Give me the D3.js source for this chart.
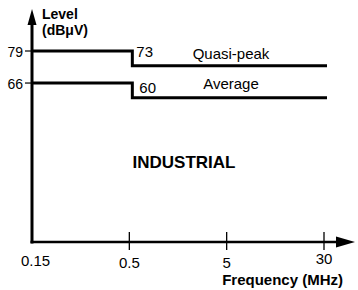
<!DOCTYPE html>
<html>
<head>
<meta charset="utf-8">
<title>Industrial limits</title>
<script src="https://d3js.org/d3.v7.min.js"></script>
<style>
  body { margin: 0; background: #fff; }
  text { font-family: "Liberation Sans", Arial, Helvetica, sans-serif; fill: #000; }
</style>
</head>
<body>
<script>

// ****** DATA ******

  var freqTicks = ["0.15", "0.5", "5", "30"];   // MHz, drawn equally spaced
  var levelTicks = [79, 66];                      // dBuV
  var stepFreq = ["0.15", "0.5", "0.5", "30"];
  var quasiPeakLevel = [79, 79, 73, 73];
  var averageLevel = [66, 66, 60, 60];
  var seriesNames = ["Quasi-peak", "Average"];

// ****** SCALES ******

  var width = 358, height = 290;

  var x = d3.scalePoint().domain(freqTicks).range([32, 324]);
  var y = d3.scaleLinear().domain([1.5, 79]).range([242, 51]);

  var svg = d3.select("body")
    .append("svg")
    .attr("width", width)
    .attr("height", height);

  // ****** AXES ******

  var x0 = x(freqTicks[0]), y0 = y(1.5);

  // y axis with arrow
  svg.append("line")
    .attr("x1", x0).attr("x2", x0)
    .attr("y1", 24).attr("y2", y0 + 1.5)
    .attr("stroke", "#000").attr("stroke-width", 3);
  svg.append("path")
    .attr("d", "M" + (x0 - 4.5) + ",25L" + x0 + ",9L" + (x0 + 4.5) + ",25Z")
    .attr("fill", "#000");

  // x axis with arrow
  svg.append("line")
    .attr("x1", x0 - 1.5).attr("x2", 338)
    .attr("y1", y0).attr("y2", y0)
    .attr("stroke", "#000").attr("stroke-width", 2.5);
  svg.append("path")
    .attr("d", "M336," + (y0 - 5.5) + "L355," + y0 + "L336," + (y0 + 5.5) + "Z")
    .attr("fill", "#000");

  // x ticks (not on the origin)
  svg.selectAll(".xtick")
    .data(freqTicks.slice(1))
    .enter().append("line")
    .attr("class", "xtick")
    .attr("x1", function (d) { return x(d); })
    .attr("x2", function (d) { return x(d); })
    .attr("y1", y0 - 10).attr("y2", y0 + 8)
    .attr("stroke", "#000").attr("stroke-width", 1.3);

  svg.selectAll(".xlabel")
    .data(freqTicks)
    .enter().append("text")
    .attr("class", "xlabel")
    .attr("x", function (d, i) { return x(d) + (i === 0 ? 3.5 : 0); })
    .attr("y", function (d, i) { return y0 + (i === 0 ? 24 : i === 3 ? 22 : 25.5); })
    .attr("text-anchor", "middle")
    .style("font-size", "15px")
    .text(function (d) { return d; });

  // y ticks
  svg.selectAll(".ytick")
    .data(levelTicks)
    .enter().append("line")
    .attr("class", "ytick")
    .attr("x1", x0 - 7).attr("x2", x0)
    .attr("y1", function (d) { return y(d); })
    .attr("y2", function (d) { return y(d); })
    .attr("stroke", "#000").attr("stroke-width", 1.2);

  svg.selectAll(".ylabel")
    .data(levelTicks)
    .enter().append("text")
    .attr("class", "ylabel")
    .attr("x", x0 - 9)
    .attr("y", function (d) { return y(d) + 6; })
    .attr("text-anchor", "end")
    .style("font-size", "14px")
    .text(function (d) { return d; });

  // axis titles
  svg.append("text")
    .attr("x", 42).attr("y", 18.5)
    .style("font-size", "14px").style("font-weight", "bold")
    .text("Level");
  svg.append("text")
    .attr("x", 42).attr("y", 34.5)
    .style("font-size", "14px").style("font-weight", "bold")
    .text("(dB\u03BCV)");

  svg.append("text")
    .attr("x", 343).attr("y", 284.5)
    .attr("text-anchor", "end")
    .style("font-size", "15px").style("font-weight", "bold")
    .text("Frequency (MHz)");

  // ****** LIMIT LINES ******

  var line = d3.line()
    .x(function (d, i) { return x(stepFreq[i]) + (i >= 1 ? 3 : 0); })
    .y(function (d) { return y(d); });

  [quasiPeakLevel, averageLevel].forEach(function (series, k) {
    svg.append("path")
      .attr("d", line(series))
      .attr("fill", "none")
      .attr("stroke", "#000")
      .attr("stroke-width", 3);

    // level after the step
    svg.append("text")
      .attr("x", x("0.5") + 7 + k * 3)
      .attr("y", y(series[0]) + (k === 0 ? 6 : 10))
      .style("font-size", "15px")
      .text(series[2]);

    // series name
    svg.append("text")
      .attr("x", 231)
      .attr("y", y(series[3]) - (k === 0 ? 7 : 8.5))
      .attr("text-anchor", "middle")
      .style("font-size", "15px")
      .text(seriesNames[k]);
  });

  svg.append("text")
    .attr("x", 184).attr("y", 168)
    .attr("text-anchor", "middle")
    .style("font-size", "17px").style("font-weight", "bold")
    .text("INDUSTRIAL");

</script>
</body>
</html>
